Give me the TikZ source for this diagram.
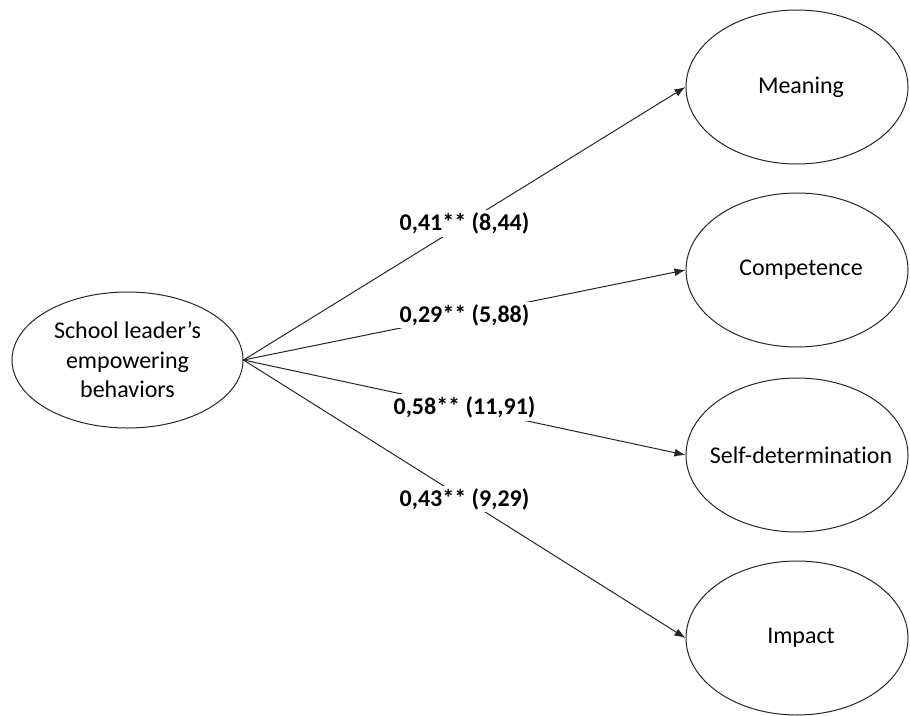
\documentclass[tikz,border=0pt]{standalone}
\usepackage{fontspec}
\setmainfont{Carlito}[Ligatures=NoCommon]
\usetikzlibrary{shapes.geometric,arrows.meta}
\begin{document}
\begin{tikzpicture}[x=1pt,y=-1pt,
  lat/.style={ellipse,draw=black!85,line width=1pt,inner sep=0pt,
    font=\fontsize{24}{29.5}\selectfont,align=center},
  outc/.style={lat,minimum width=222pt,minimum height=154pt},
  conn/.style={draw=black!85,line width=1pt,-{Latex[length=11pt,width=8pt]}},
  coef/.style={fill=white,inner sep=2.5pt,font=\fontsize{24}{29}\selectfont\bfseries}]
\useasboundingbox (0,0) rectangle (910,715);
\node[lat,minimum width=231pt,minimum height=136pt] (S) at (127.5,360)
  {School leader’s\\empowering\\behaviors};
\node[outc] (M) at (797,87)  {\makebox[0pt]{\hspace*{8pt}Meaning}};
\node[outc] (C) at (797,270) {\makebox[0pt]{\hspace*{8pt}Competence}};
\node[outc] (D) at (797,455) {\makebox[0pt]{\hspace*{8pt}Self-determination}};
\node[outc] (I) at (797,638) {\makebox[0pt]{\hspace*{8pt}Impact}};
\draw[conn] (S.east) -- node[coef] {0,41** (8,44)} (M.west);
\draw[conn] (S.east) -- node[coef] {0,29** (5,88)} (C.west);
\draw[conn] (S.east) -- node[coef] {0,58** (11,91)} (D.west);
\draw[conn] (S.east) -- node[coef] {0,43** (9,29)} (I.west);
\end{tikzpicture}
\end{document}
